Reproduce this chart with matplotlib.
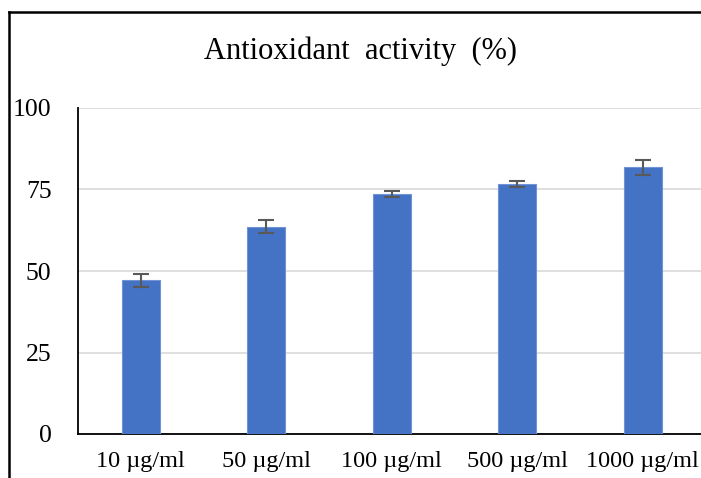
import matplotlib
matplotlib.use("Agg")
import matplotlib.pyplot as plt
from matplotlib.lines import Line2D

# data
labels = ["10 µg/ml", "50 µg/ml", "100 µg/ml", "500 µg/ml", "1000 µg/ml"]
activity = [47.2, 63.6, 73.6, 76.7, 81.8]
errors = [2.0, 2.0, 0.9, 0.9, 2.2]
yticks = [0, 25, 50, 75, 100]

plt.rcParams['font.family'] = ['Liberation Serif', 'DejaVu Serif']

fig = plt.figure(figsize=(7.01, 4.78), dpi=100)
# axes runs past the right edge, as in the cropped original
ax = fig.add_axes([78/701, 1-434/478, 627.5/701, 326/478])

x = range(len(labels))
ax.bar(x, activity, width=0.30, color="#4472C4", edgecolor="#6f93d6", linewidth=0.8, zorder=3)
ax.errorbar(x, activity, yerr=errors, fmt="none", ecolor="#595959", elinewidth=1.5,
            capsize=6, capthick=1.5, zorder=4)

ax.set_xlim(-0.5, 4.5)
ax.set_ylim(0, 100)
ax.set_yticks(yticks)
ax.set_xticks(list(x))
ax.set_xticklabels(labels)
ax.tick_params(axis="both", length=0, labelsize=18.5)
ax.tick_params(axis="x", labelsize=17.5, pad=12)
ax.tick_params(axis="y", pad=19)
ax.grid(axis="y", color="#d9d9d9", linewidth=1.2, zorder=0)
ax.set_axisbelow(True)
for s in ["top", "right"]:
    ax.spines[s].set_visible(False)
ax.spines["left"].set_color("black")
ax.spines["bottom"].set_color("black")
ax.spines["left"].set_linewidth(1.3)
ax.spines["bottom"].set_linewidth(1.3)

# keep the last label inside the picture
ax.get_xticklabels()[-1].set_x(4 - 0.02)

fig.text(360/701, 1-51/478, "Antioxidant  activity  (%)", ha="center", va="center", fontsize=22)

# outer frame, only top and left edges are inside the crop
fx = 9/701
fy = 1-12/478
fig.lines.append(Line2D([fx, 1.0], [fy, fy], transform=fig.transFigure, color="black", linewidth=1.8))
fig.lines.append(Line2D([fx, fx], [fy, 0.0], transform=fig.transFigure, color="black", linewidth=1.8))

fig.savefig("out.png", dpi=100)
